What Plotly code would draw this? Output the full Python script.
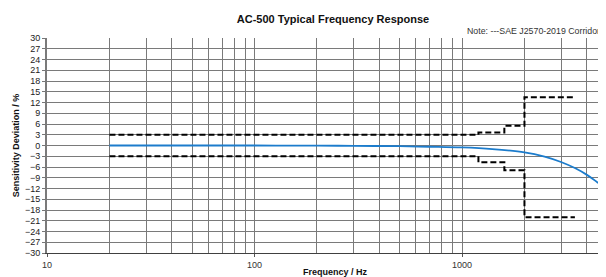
import plotly.graph_objects as go

# Measured response
freq = [20, 50, 100, 200, 300, 500, 700, 1000, 1400, 2000, 2500, 3000, 3500, 4000, 4500, 5000]
deviation = [0, 0, 0, -0.05, -0.1, -0.2, -0.35, -0.55, -1.0, -1.9, -3.1, -4.6, -6.3, -8.2, -10.3, -12.3]

# SAE J2570-2019 corridor (step edges)
corr_freq = [20, 1200, 1200, 1600, 1600, 2000, 2000, 3500]
corr_upper = [3, 3, 3.6, 3.6, 5.5, 5.5, 13.5, 13.5]
corr_lower = [-3, -3, -4.7, -4.7, -6.9, -6.9, -20, -20]

y_ticks = list(range(-30, 31, 3))
x_ticks = [10, 100, 1000]

FONT = "Liberation Sans, Arial, sans-serif"
W, H = 598, 269
L, R, T, B = 39, 0, 30, 24
PH = H - T - B
PW = W - L - R

fig = go.Figure()
for yv in (corr_upper, corr_lower):
    fig.add_trace(go.Scatter(x=corr_freq, y=yv, mode="lines",
                             line=dict(color="black", width=2, dash="6px,3px"),
                             showlegend=False, hoverinfo="skip"))
fig.add_trace(go.Scatter(x=freq, y=deviation, mode="lines", line_shape="spline",
                         line=dict(color="#1c7ccc", width=1.8), showlegend=False))

fig.update_layout(
    width=W, height=H,
    margin=dict(l=L, r=R, t=T, b=B),
    paper_bgcolor="white", plot_bgcolor="white",
    font=dict(family=FONT, size=9, color="#222"),
    title=dict(text="<b>AC-500 Typical Frequency Response</b>", x=325/W, xanchor="center",
               y=1 - 11/H, yanchor="middle", font=dict(size=11, color="#111")),
)
fig.update_xaxes(
    type="log", range=[1, 3.694],
    tickvals=x_ticks, ticktext=[str(v) for v in x_ticks],
    ticks="outside", ticklen=3, tickcolor="#555",
    showgrid=True, gridcolor="#7a7a7a", gridwidth=1,
    minor=dict(showgrid=True, dtick="D1", gridcolor="#7a7a7a", gridwidth=1, ticks=""),
    showline=True, linecolor="#404040", linewidth=1.2,
    tickfont=dict(size=9, color="#333"),
    zeroline=False,
)
fig.update_yaxes(
    range=[-30, 30], tickvals=y_ticks,
    ticks="outside", ticklen=3, tickcolor="#777",
    showgrid=True, gridcolor="#7a7a7a", gridwidth=1,
    showline=True, linecolor="#7a7a7a", linewidth=2,
    title=dict(text="<b>Sensitivity Deviation / %</b>", standoff=4, font=dict(size=9, color="#111")),
    tickfont=dict(size=9, color="#222"),
    zeroline=False,
)
fig.add_annotation(text="<b>Frequency / Hz</b>", xref="paper", yref="paper",
                   x=(328 - L) / PW, y=-19 / PH, xanchor="center", yanchor="middle",
                   showarrow=False, font=dict(family=FONT, size=9, color="#111"))
fig.add_annotation(text="Note: ---SAE J2570-2019 Corridor", xref="paper", yref="paper",
                   x=1.0 - 4 / PW, y=1 + 7 / PH, xanchor="right", yanchor="middle",
                   showarrow=False, font=dict(family=FONT, size=8.8, color="#333"))

fig.write_html("out.html")
